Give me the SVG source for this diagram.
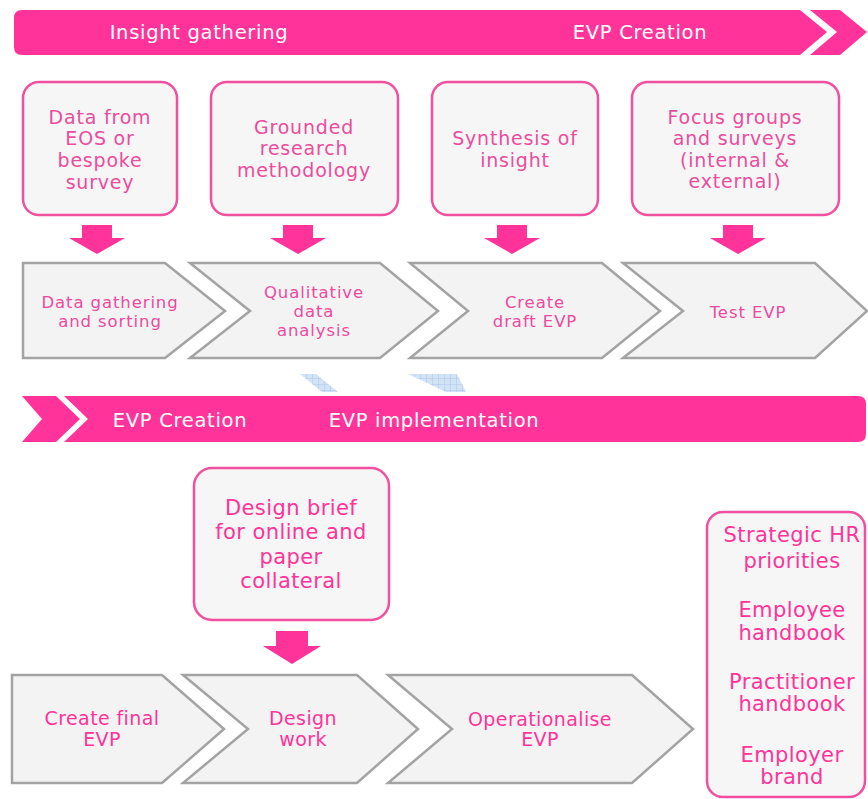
<svg xmlns="http://www.w3.org/2000/svg" width="868" height="799" viewBox="0 0 868 799">
<defs>
<style>
.banner{fill:#ff3399}
.btxt{fill:#ffffff;font-family:"DejaVu Sans",sans-serif;font-size:19.5px;letter-spacing:0.7px;text-anchor:middle}
.box{fill:#f6f6f6;stroke:#f0509f;stroke-width:2.5}
.btext{fill:#ea4d9e;font-family:"DejaVu Sans",sans-serif;font-size:19px;letter-spacing:0.8px;text-anchor:middle}
.chev{fill:#f3f3f3;stroke:#a3a3a3;stroke-width:2.5;stroke-linejoin:miter}
.ctext{fill:#ec4aa0;font-family:"DejaVu Sans",sans-serif;font-size:16.5px;letter-spacing:0.9px;text-anchor:middle}
.ctext2{fill:#ff3399;font-family:"DejaVu Sans",sans-serif;font-size:19px;letter-spacing:0.4px;text-anchor:middle}
.bigtext{fill:#ff3399;font-family:"DejaVu Sans",sans-serif;font-size:21px;letter-spacing:0.4px;text-anchor:middle}
.arrow{fill:#ff3399}
.hatch{fill:url(#grid)}
</style>
<pattern id="grid" width="6" height="6" patternUnits="userSpaceOnUse">
<rect width="6" height="6" fill="#d3e3f6"/>
<path d="M0,0H6M0,0V6" stroke="#9fbfe6" stroke-width="0.8"/>
</pattern>
</defs>

<g id="banner-top">
<path class="banner" d="M22,10 L800,10 L827,32 L800,55 L22,55 Q14,55 14,47 L14,18 Q14,10 22,10 Z"/>
<polygon class="banner" points="810,10 840,10 867,32 840,55 810,55 837,32"/>
<text class="btxt" x="199" y="39">Insight gathering</text>
<text class="btxt" x="640" y="39">EVP Creation</text>
</g>

<g id="box-eos">
<rect class="box" x="23" y="82" width="154" height="133" rx="16"/>
<text class="btext" x="100" y="124">Data from</text>
<text class="btext" x="100" y="145">EOS or</text>
<text class="btext" x="100" y="167">bespoke</text>
<text class="btext" x="100" y="189">survey</text>
</g>
<g id="box-grounded">
<rect class="box" x="211" y="82" width="187" height="133" rx="16"/>
<text class="btext" x="304" y="134">Grounded</text>
<text class="btext" x="304" y="155">research</text>
<text class="btext" x="304" y="177">methodology</text>
</g>
<g id="box-synthesis">
<rect class="box" x="432" y="82" width="166" height="133" rx="16"/>
<text class="btext" x="515" y="145">Synthesis of</text>
<text class="btext" x="515" y="167">insight</text>
</g>
<g id="box-focus">
<rect class="box" x="632" y="82" width="207" height="133" rx="16"/>
<text class="btext" x="735" y="124">Focus groups</text>
<text class="btext" x="735" y="145">and surveys</text>
<text class="btext" x="735" y="167">(internal &amp;</text>
<text class="btext" x="735" y="188">external)</text>
</g>

<g id="connectors">
<polygon class="arrow" points="82,225 112,225 112,238 125,238 97,254 69,238 82,238"/>
<polygon class="arrow" points="283,225 313,225 313,238 326,238 298,254 270,238 283,238"/>
<polygon class="arrow" points="497,225 527,225 527,238 540,238 512,254 484,238 497,238"/>
<polygon class="arrow" points="723,225 753,225 753,238 766,238 738,254 710,238 723,238"/>
<polygon class="arrow" points="276,631 308,631 308,646 321,646 292,664 263,646 276,646"/>
</g>

<g id="step-gathering">
<path class="chev" d="M23,263 L165,263 L225,311 L165,358 L23,358 Z"/>
<text class="ctext" x="110" y="308">Data gathering</text>
<text class="ctext" x="110" y="327">and sorting</text>
</g>
<g id="step-qualitative">
<path class="chev" d="M190,263 L380,263 L438,311 L380,358 L190,358 L250,311 Z"/>
<text class="ctext" x="314" y="298">Qualitative</text>
<text class="ctext" x="314" y="317">data</text>
<text class="ctext" x="314" y="336">analysis</text>
</g>
<g id="step-draft">
<path class="chev" d="M410,263 L602,263 L660,311 L602,358 L410,358 L468,311 Z"/>
<text class="ctext" x="535" y="308">Create</text>
<text class="ctext" x="535" y="327">draft EVP</text>
</g>
<g id="step-test">
<path class="chev" d="M623,263 L815,263 L867,311 L815,358 L623,358 L683,311 Z"/>
<text class="ctext" x="748" y="318">Test EVP</text>
</g>

<g id="hatches">
<polygon class="hatch" points="300,374 316,374 338,392 322,392"/>
<polygon class="hatch" points="408,374 457,374 466,392 446,392"/>
</g>

<g id="banner-mid">
<polygon class="banner" points="22,396 56,396 80,419 56,442 22,442 42,419"/>
<path class="banner" d="M64,396 L858,396 Q866,396 866,404 L866,434 Q866,442 858,442 L64,442 L88,419 Z"/>
<text class="btxt" x="180" y="427">EVP Creation</text>
<text class="btxt" x="434" y="427">EVP implementation</text>
</g>

<g id="box-design-brief">
<rect class="box" x="194" y="468" width="195" height="152" rx="18"/>
<text class="bigtext" x="291" y="515">Design brief</text>
<text class="bigtext" x="291" y="539">for online and</text>
<text class="bigtext" x="291" y="564">paper</text>
<text class="bigtext" x="291" y="588">collateral</text>
</g>

<g id="step-final">
<path class="chev" d="M12,675 L162,675 L224,729 L162,783 L12,783 Z"/>
<text class="ctext2" x="102" y="725">Create final</text>
<text class="ctext2" x="102" y="746">EVP</text>
</g>
<g id="step-design">
<path class="chev" d="M183,675 L357,675 L418,729 L357,783 L183,783 L248,729 Z"/>
<text class="ctext2" x="303" y="725">Design</text>
<text class="ctext2" x="303" y="746">work</text>
</g>
<g id="step-operationalise">
<path class="chev" d="M388,675 L632,675 L693,729 L632,783 L388,783 L452,729 Z"/>
<text class="ctext2" x="540" y="726">Operationalise</text>
<text class="ctext2" x="540" y="746">EVP</text>
</g>

<g id="box-outputs">
<rect class="box" x="707" y="512" width="158" height="285" rx="16"/>
<text class="bigtext" x="792" y="542">Strategic HR</text>
<text class="bigtext" x="792" y="568">priorities</text>
<text class="bigtext" x="792" y="617">Employee</text>
<text class="bigtext" x="792" y="640">handbook</text>
<text class="bigtext" x="792" y="689">Practitioner</text>
<text class="bigtext" x="792" y="711">handbook</text>
<text class="bigtext" x="792" y="762">Employer</text>
<text class="bigtext" x="792" y="784">brand</text>
</g>
</svg>
